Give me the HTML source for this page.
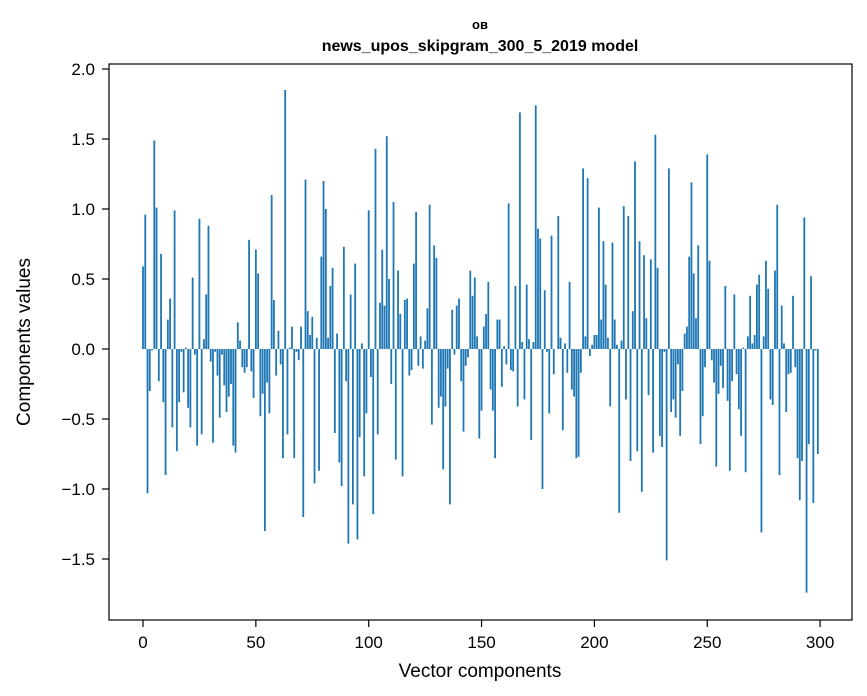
<!DOCTYPE html>
<html><head><meta charset="utf-8"><style>
body{margin:0;background:#fff;}
svg{display:block;font-family:"Liberation Sans","DejaVu Sans",sans-serif;}
</style></head><body>
<svg id="chart" width="867" height="696" viewBox="0 0 867 696">
<rect width="867" height="696" fill="#fff"/>
<text x="480" y="29" text-anchor="middle" font-size="13" font-weight="bold">ов</text>
<text x="480" y="51" text-anchor="middle" font-size="16" font-weight="bold">news_upos_skipgram_300_5_2019 model</text>
<g id="bars"></g>
<g id="axes"></g>
<rect x="109" y="64" width="743" height="556" fill="none" stroke="#000" stroke-width="1.2"/>
<text x="480" y="677" text-anchor="middle" font-size="19">Vector components</text>
<text transform="translate(30,342) rotate(-90)" text-anchor="middle" font-size="19">Components values</text>
</svg>
<script>
const values = [0.59,0.96,-1.03,-0.30,-0.01,1.49,1.01,-0.23,0.68,-0.38,
-0.90,0.21,0.36,-0.56,0.99,-0.73,-0.38,-0.02,-0.31,0.01,
-0.42,-0.56,0.51,-0.04,-0.69,0.93,-0.61,0.07,0.39,0.88,
-0.09,-0.67,-0.02,-0.19,-0.49,-0.04,-0.26,-0.45,-0.34,-0.25,
-0.69,-0.74,0.19,0.06,-0.13,-0.17,-0.13,0.78,-0.16,-0.35,
0.71,0.54,-0.48,-0.32,-1.30,-0.24,-0.46,1.10,0.35,-0.19,
0.13,-0.11,-0.78,1.85,-0.61,0.01,0.16,-0.78,-0.02,-0.08,
0.16,-1.20,1.21,0.27,0.10,0.23,-0.96,0.08,-0.87,0.66,
1.20,1.00,0.08,0.45,0.58,-0.60,0.11,-0.81,-0.98,0.73,
-0.23,-1.39,0.39,-1.11,0.61,-1.36,-0.63,0.04,-0.91,-0.46,
0.99,-0.20,-1.18,1.43,-0.61,0.33,0.71,0.31,1.52,0.50,
-0.25,1.05,-0.79,0.56,0.25,-0.91,0.35,0.36,-0.19,-0.15,
0.61,0.98,-0.12,0.09,-0.14,0.06,0.29,1.03,-0.54,0.74,
0.65,-0.42,-0.34,-0.86,-0.41,-0.14,-1.11,0.28,-0.04,0.31,
0.36,-0.23,-0.59,-0.12,-0.06,0.56,0.38,0.51,0.09,-0.64,
-0.44,0.16,0.25,0.48,-0.29,-0.44,-0.78,0.21,0.21,-0.27,
0.02,-0.11,1.04,-0.15,-0.16,0.45,-0.41,1.69,0.05,-0.36,
0.46,0.07,-0.65,0.05,1.74,0.86,0.79,-1.00,0.42,-0.02,
-0.46,0.81,-0.18,0.00,0.95,0.08,-0.58,0.04,-0.17,0.48,
-0.29,-0.34,-0.78,-0.77,-0.17,1.29,0.09,1.22,-0.05,0.03,
0.10,0.10,1.01,0.21,0.77,0.46,0.08,-0.41,0.76,0.21,
0.03,-1.17,0.06,1.02,-0.36,0.95,-0.80,0.27,1.34,-0.73,
0.77,-1.02,0.67,0.22,-0.33,0.64,-0.74,1.53,0.58,-0.62,
-0.70,-0.02,-1.51,1.29,-0.45,-0.36,-0.49,-0.11,-0.62,-0.30,
0.11,0.16,0.66,1.19,0.54,0.22,0.74,-0.68,-0.48,-0.13,
1.39,0.63,-0.08,-0.24,-0.84,-0.32,-0.12,-0.28,0.45,-0.37,
-0.87,-0.23,0.39,-0.18,-0.43,-0.62,0.01,-0.88,0.09,0.38,
0.04,0.10,0.46,0.53,-1.31,0.09,0.63,0.43,-0.36,-0.40,
0.56,1.03,-0.90,0.31,0.04,-0.45,-0.18,-0.17,0.38,-0.13,
-0.78,-1.08,-0.80,0.94,-1.74,-0.68,0.52,-1.10,-0.01,-0.75];
const xTicks = [0,50,100,150,200,250,300];
const yTicks = [-1.5,-1.0,-0.5,0.0,0.5,1.0,1.5,2.0];
const NS='http://www.w3.org/2000/svg';
function xs(v){return 143+2.257*v;}
function ys(v){return 349-140*v;}
const bars=document.getElementById('bars');
values.forEach((v,i)=>{
  const r=document.createElementNS(NS,'rect');
  const w=2.257*0.8;
  r.setAttribute('x',xs(i)-w/2);
  r.setAttribute('width',w);
  r.setAttribute('y',Math.min(ys(v),ys(0)));
  r.setAttribute('height',Math.abs(ys(v)-ys(0)));
  r.setAttribute('fill','#1f77b4');
  
  
  bars.appendChild(r);
});
const axes=document.getElementById('axes');
xTicks.forEach(t=>{
  const l=document.createElementNS(NS,'line');
  l.setAttribute('x1',xs(t));l.setAttribute('x2',xs(t));
  l.setAttribute('y1',620);l.setAttribute('y2',627);
  l.setAttribute('stroke','#000');l.setAttribute('stroke-width','1.2');
  
  
  axes.appendChild(l);
  const tx=document.createElementNS(NS,'text');
  tx.setAttribute('x',xs(t));tx.setAttribute('y',648);
  tx.setAttribute('text-anchor','middle');tx.setAttribute('font-size','17');
  tx.textContent=t;
  
  
  axes.appendChild(tx);
});
yTicks.forEach(t=>{
  const l=document.createElementNS(NS,'line');
  l.setAttribute('x1',102);l.setAttribute('x2',109);
  l.setAttribute('y1',ys(t));l.setAttribute('y2',ys(t));
  l.setAttribute('stroke','#000');l.setAttribute('stroke-width','1.2');
  
  
  axes.appendChild(l);
  const tx=document.createElementNS(NS,'text');
  tx.setAttribute('x',95);tx.setAttribute('y',ys(t)+6);
  tx.setAttribute('text-anchor','end');tx.setAttribute('font-size','17');
  tx.textContent=(t<0?'\u2212':'')+Math.abs(t).toFixed(1);
  
  
  axes.appendChild(tx);
});
</script>
</body></html>
